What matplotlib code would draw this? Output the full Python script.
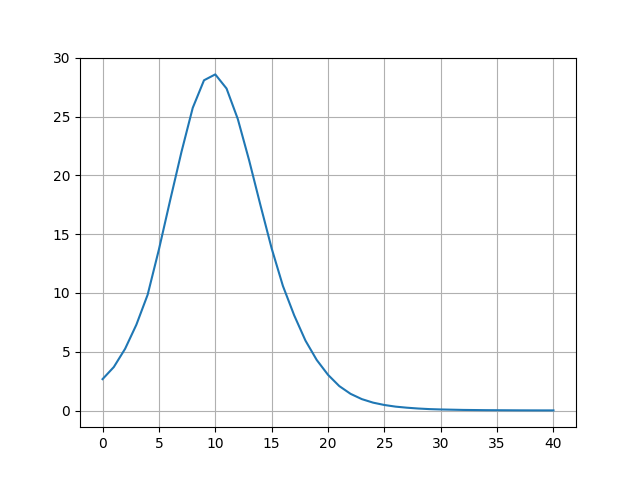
import matplotlib
matplotlib.use("Agg")
import matplotlib.pyplot as plt

# values
x = list(range(41))
y = [2.67, 3.7, 5.25, 7.3, 9.85, 13.7, 17.9, 22.0, 25.75, 28.1, 28.6, 27.4, 24.8,
     21.3, 17.5, 13.8, 10.6, 8.1, 5.95, 4.3, 3.04, 2.08, 1.42, 0.97, 0.67, 0.47,
     0.33, 0.24, 0.17, 0.12, 0.09, 0.07, 0.05, 0.04, 0.03, 0.025, 0.02, 0.015,
     0.012, 0.01, 0.01]

fig, ax = plt.subplots(figsize=(6.4, 4.8), dpi=100)
ax.plot(x, y)
ax.grid(True)
ax.set_yticks([0, 5, 10, 15, 20, 25, 30])

fig.savefig("out.png")
